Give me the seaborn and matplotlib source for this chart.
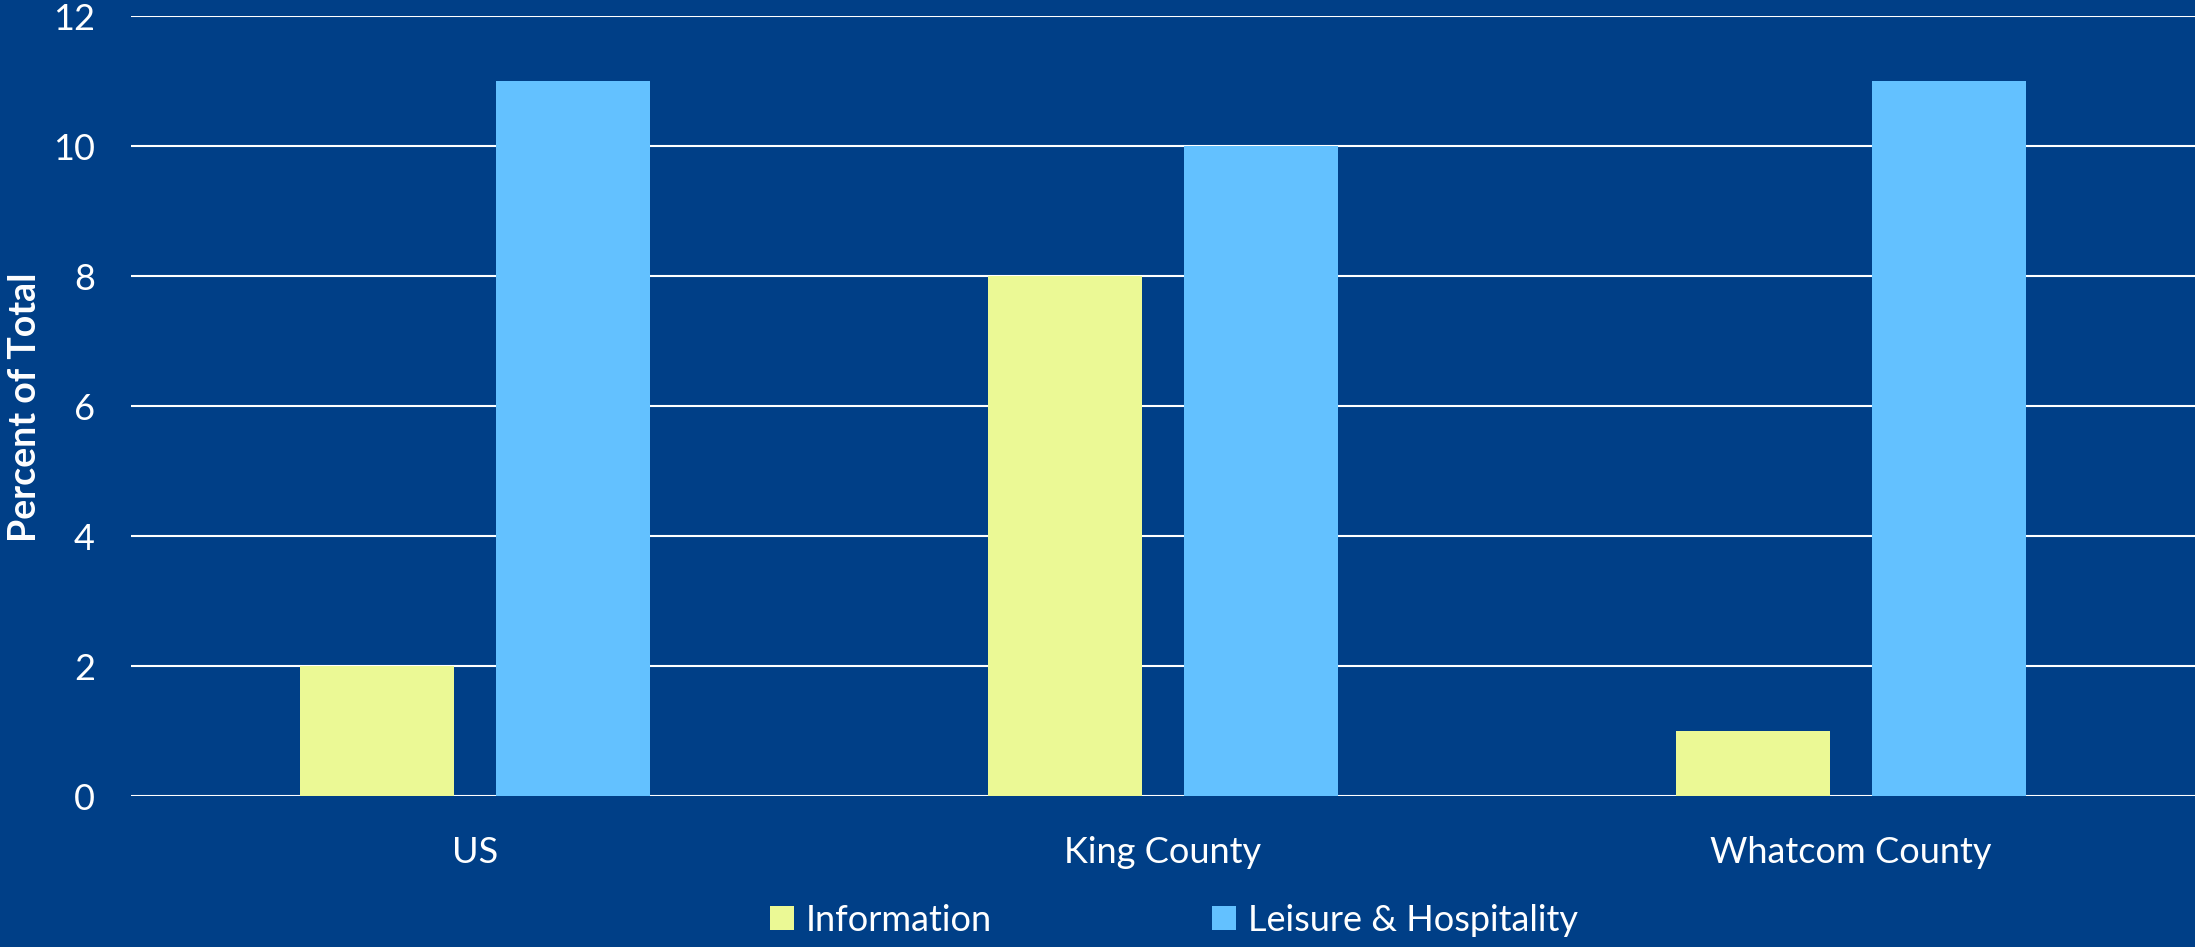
import pandas as pd
import seaborn as sns
import matplotlib.pyplot as plt

# values
areas = ['US', 'King County', 'Whatcom County']
information = [2, 8, 1]
leisure = [11, 10, 11]
series_names = ['Information', 'Leisure & Hospitality']
yticks = [0, 2, 4, 6, 8, 10, 12]

df = pd.DataFrame({
    'area': areas * 2,
    'sector': [series_names[0]] * 3 + [series_names[1]] * 3,
    'pct': information + leisure,
})

bg = '#003F87'
colors = ['#EBF995', '#63C1FF']

sns.set_theme(style='white')
plt.rcParams['font.family'] = ['Lato', 'DejaVu Sans']

fig = plt.figure(figsize=(21.95, 9.47), dpi=100, facecolor=bg)
ax = fig.add_axes([131 / 2195, 1 - 796 / 947, (2195 - 131) / 2195, (796 - 16.5) / 947])
ax.set_facecolor(bg)

sns.barplot(data=df, x='area', y='pct', hue='sector', palette=colors,
            width=0.568, gap=0.213, saturation=1, linewidth=0, ax=ax, zorder=3)

ax.set_ylim(0, 12)
ax.set_xlim(-0.5, 2.5)
ax.set_yticks(yticks)
ax.grid(axis='y', color='white', linewidth=1.5, zorder=0)
ax.set_axisbelow(True)
for s in ax.spines.values():
    s.set_visible(False)

ax.tick_params(axis='both', length=0, colors='white', labelsize=26)
ax.tick_params(axis='y', pad=26)
ax.tick_params(axis='x', pad=29)
ax.set_xlabel('')
ax.set_ylabel('')
fig.text(25 / 2195, 1 - 407 / 947, 'Percent of Total', rotation=90, color='white',
         fontsize=27, fontweight='bold', ha='center', va='center')

leg = ax.legend(loc='center', bbox_to_anchor=(1174 / 2195, 1 - 920 / 947),
                bbox_transform=fig.transFigure, ncol=2, frameon=False,
                fontsize=26, handlelength=0.67, handleheight=0.67,
                handletextpad=0.33, columnspacing=6.1, borderpad=0)
for t in leg.get_texts():
    t.set_color('white')

fig.savefig('out.png', dpi=100, facecolor=bg)
